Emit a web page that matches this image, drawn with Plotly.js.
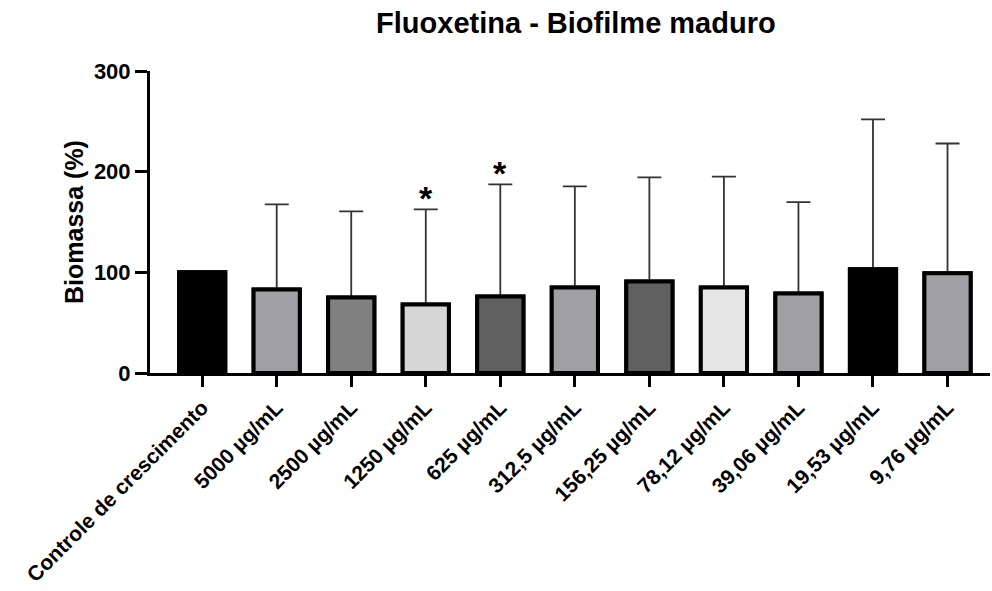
<!DOCTYPE html>
<html>
<head>
<meta charset="utf-8">
<script src="https://cdn.plot.ly/plotly-3.0.1.min.js"></script>
<style>html,body{margin:0;padding:0;background:#fff;}#chart{width:992px;height:591px;}</style>
</head>
<body>
<div id="chart"></div>
<script>
const categories = ["Controle de crescimento","5000 µg/mL","2500 µg/mL","1250 µg/mL","625 µg/mL","312,5 µg/mL","156,25 µg/mL","78,12 µg/mL","39,06 µg/mL","19,53 µg/mL","9,76 µg/mL"];
const means = [100, 83, 75, 68, 76, 85, 91, 85, 79, 103, 99];
const sdUpper = [null, 84.5, 85.6, 94.6, 111.4, 100.4, 103.3, 110, 90.8, 149, 129];
const significant = [false, false, false, true, true, false, false, false, false, false, false];
const barColors = ["#000000","#a0a0a4","#808080","#d6d6d6","#606060","#a0a0a4","#606060","#e6e6e6","#a0a0a4","#000000","#a0a0a4"];

const FONT = "Liberation Sans, Arial, Helvetica, sans-serif";

// error bars drawn first, bars drawn on top so only the upper whisker shows
const errTrace = {
  type: "bar",
  x: categories,
  y: means,
  width: 0.62,
  marker: { color: barColors, line: { color: "#000", width: 4 } },
  error_y: {
    type: "data",
    array: sdUpper,
    arrayminus: sdUpper.map(v => 0),
    symmetric: false,
    visible: true,
    color: "#333333",
    thickness: 1.8,
    width: 12
  },
  hoverinfo: "none"
};
const barTrace = {
  type: "bar",
  x: categories,
  y: means,
  width: 0.62,
  marker: { color: barColors, line: { color: "#000", width: 4 } },
  hoverinfo: "none"
};

const annotations = [];
categories.forEach((c, i) => {
  if (significant[i]) {
    annotations.push({
      x: c, y: means[i] + (sdUpper[i] || 0),
      xref: "x", yref: "y",
      text: "<b>*</b>", showarrow: false,
      yanchor: "bottom", yshift: -10,
      font: { family: FONT, size: 34, color: "#000" }
    });
  }
});

const layout = {
  width: 992, height: 591,
  margin: { l: 150, r: 2, t: 71, b: 218 },
  paper_bgcolor: "#fff", plot_bgcolor: "#fff",
  showlegend: false,
  barmode: "overlay",
  title: {
    text: "<b>Fluoxetina - Biofilme maduro</b>",
    font: { family: FONT, size: 29, color: "#000" },
    x: 0.507, xref: "paper", y: 0.962, yanchor: "middle"
  },
  xaxis: {
    type: "category",
    range: [-0.7, 10.57],
    automargin: false,
    showline: true, linewidth: 3, linecolor: "#000",
    ticks: "outside", ticklen: 11, tickwidth: 3, tickcolor: "#000",
    tickangle: -45,
    tickfont: { family: FONT, size: 21, color: "#000", weight: "bold" },
    showgrid: false, zeroline: false, fixedrange: true
  },
  yaxis: {
    range: [0, 300],
    tickvals: [0, 100, 200, 300],
    automargin: false,
    showline: true, linewidth: 3, linecolor: "#000",
    ticks: "outside", ticklen: 12, tickwidth: 3, tickcolor: "#000",
    tickfont: { family: FONT, size: 22, color: "#000", weight: "bold" },
    showgrid: false, zeroline: false, fixedrange: true,
    title: { text: "<b>Biomassa (%)</b>", font: { family: FONT, size: 25, color: "#000" }, standoff: 4 }
  },
  annotations: annotations
};

Plotly.newPlot("chart", [errTrace, barTrace], layout, { displayModeBar: false, staticPlot: true });
</script>
</body>
</html>
